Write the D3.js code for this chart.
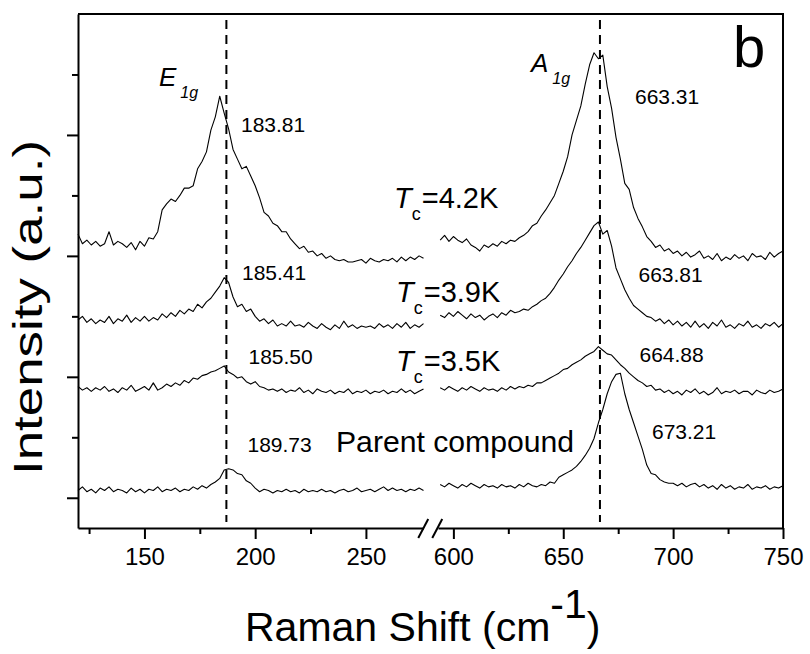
<!DOCTYPE html>
<html>
<head>
<meta charset="utf-8">
<script src="https://cdn.jsdelivr.net/npm/d3@7"></script>
<style>
  body { margin: 0; background: #fff; }
  svg { display: block; font-family: 'Liberation Sans', Arial, sans-serif; }
</style>
</head>
<body>
<div class="container"></div>
<script>
// Raman shift sampling (cm-1), left and right of the axis break
const xLeft = [120, 122, 124, 126, 128, 130, 132, 134, 136, 138,
    140, 142, 144, 146, 148, 150, 152, 154, 156, 158,
    160, 162, 164, 166, 168, 170, 172, 174, 176, 178,
    180, 182, 184, 186, 188, 190, 192, 194, 196, 198,
    200, 202, 204, 206, 208, 210, 212, 214, 216, 218,
    220, 222, 224, 226, 228, 230, 232, 234, 236, 238,
    240, 242, 244, 246, 248, 250, 252, 254, 256, 258,
    260, 262, 264, 266, 268, 270, 272, 274, 276];
const xRight = [594, 596, 598, 600, 602, 604, 606, 608, 610, 612,
    614, 616, 618, 620, 622, 624, 626, 628, 630, 632,
    634, 636, 638, 640, 642, 644, 646, 648, 650, 652,
    654, 656, 658, 660, 662, 664, 666, 668, 670, 672,
    674, 676, 678, 680, 682, 684, 686, 688, 690, 692,
    694, 696, 698, 700, 702, 704, 706, 708, 710, 712,
    714, 716, 718, 720, 722, 724, 726, 728, 730, 732,
    734, 736, 738, 740, 742, 744, 746, 748, 750];

// intensities (a.u., offset stacked)
const tc42Left = [2.18, 2.10, 2.13, 2.09, 2.12, 2.08, 2.10, 2.20, 2.09, 2.12,
    2.10, 2.07, 2.11, 2.05, 2.12, 2.08, 2.15, 2.14, 2.20, 2.38,
    2.43, 2.47, 2.45, 2.50, 2.56, 2.56, 2.58, 2.72, 2.78, 2.86,
    3.04, 3.15, 3.32, 3.18, 3.05, 2.88, 2.80, 2.72, 2.74, 2.66,
    2.58, 2.48, 2.36, 2.33, 2.27, 2.25, 2.20, 2.20, 2.14, 2.10,
    2.06, 2.08, 2.03, 2.04, 2.00, 2.02, 1.98, 2.00, 1.97, 1.96,
    1.97, 1.95, 1.95, 1.96, 1.97, 1.94, 1.98, 1.96, 1.95, 1.97,
    1.96, 1.98, 1.95, 1.99, 1.96, 1.99, 1.97, 2.00, 1.98];
const tc42Right = [2.13, 2.17, 2.12, 2.16, 2.13, 2.11, 2.14, 2.09, 2.07, 2.04,
    2.09, 2.07, 2.10, 2.08, 2.12, 2.10, 2.13, 2.12, 2.15, 2.17,
    2.20, 2.25, 2.27, 2.33, 2.38, 2.44, 2.50, 2.60, 2.70, 2.82,
    3.00, 3.12, 3.24, 3.42, 3.58, 3.68, 3.63, 3.66, 3.40, 3.22,
    2.98, 2.80, 2.60, 2.55, 2.40, 2.31, 2.24, 2.16, 2.12, 2.07,
    2.09, 2.04, 2.06, 2.02, 2.04, 2.00, 2.03, 1.99, 2.01, 2.04,
    1.98, 2.00, 1.97, 2.02, 1.96, 1.99, 1.97, 2.01, 1.98, 2.00,
    1.96, 2.02, 1.99, 2.00, 1.97, 2.03, 1.99, 2.02, 2.04];

const tc39Left = [1.47, 1.50, 1.45, 1.48, 1.44, 1.47, 1.45, 1.50, 1.44, 1.48,
    1.46, 1.51, 1.45, 1.49, 1.46, 1.50, 1.46, 1.49, 1.47, 1.52,
    1.49, 1.53, 1.50, 1.55, 1.52, 1.56, 1.54, 1.60, 1.57, 1.62,
    1.65, 1.70, 1.75, 1.82, 1.78, 1.66, 1.58, 1.60, 1.54, 1.56,
    1.50, 1.46, 1.48, 1.44, 1.47, 1.42, 1.44, 1.42, 1.46, 1.42,
    1.43, 1.41, 1.45, 1.42, 1.40, 1.44, 1.41, 1.39, 1.43, 1.40,
    1.46, 1.41, 1.43, 1.40, 1.42, 1.41, 1.42, 1.40, 1.44, 1.41,
    1.43, 1.40, 1.44, 1.41, 1.45, 1.40, 1.43, 1.41, 1.44];
const tc39Right = [1.51, 1.49, 1.53, 1.50, 1.54, 1.51, 1.48, 1.52, 1.49, 1.51,
    1.47, 1.50, 1.52, 1.49, 1.53, 1.51, 1.55, 1.53, 1.54, 1.56,
    1.55, 1.58, 1.60, 1.63, 1.65, 1.69, 1.74, 1.80, 1.85, 1.91,
    1.96, 2.02, 2.07, 2.13, 2.19, 2.25, 2.28, 2.18, 2.21, 2.08,
    1.90, 1.81, 1.72, 1.65, 1.59, 1.56, 1.53, 1.50, 1.49, 1.46,
    1.48, 1.44, 1.47, 1.43, 1.46, 1.42, 1.45, 1.41, 1.46, 1.41,
    1.44, 1.40, 1.45, 1.42, 1.47, 1.41, 1.43, 1.40, 1.44, 1.42,
    1.46, 1.41, 1.43, 1.40, 1.44, 1.42, 1.45, 1.41, 1.44];

const tc35Left = [0.92, 0.89, 0.91, 0.88, 0.91, 0.89, 0.92, 0.88, 0.90, 0.87,
    0.91, 0.89, 0.93, 0.88, 0.90, 0.92, 0.89, 0.95, 0.89, 0.91,
    0.94, 0.92, 0.95, 0.93, 0.97, 0.95, 0.99, 0.98, 1.01, 1.02,
    1.04, 1.05, 1.07, 1.09, 1.04, 1.02, 0.99, 1.00, 0.96, 0.94,
    0.96, 0.92, 0.91, 0.89, 0.90, 0.88, 0.90, 0.87, 0.89, 0.88,
    0.91, 0.87, 0.89, 0.86, 0.90, 0.88, 0.87, 0.89, 0.86, 0.88,
    0.87, 0.90, 0.86, 0.88, 0.87, 0.89, 0.86, 0.88, 0.87, 0.89,
    0.86, 0.88, 0.87, 0.90, 0.87, 0.89, 0.86, 0.88, 0.90];
const tc35Right = [0.91, 0.89, 0.92, 0.90, 0.88, 0.91, 0.89, 0.92, 0.90, 0.88,
    0.91, 0.89, 0.90, 0.88, 0.91, 0.89, 0.92, 0.90, 0.92, 0.91,
    0.93, 0.92, 0.95, 0.95, 0.97, 0.99, 1.01, 1.03, 1.06, 1.07,
    1.10, 1.12, 1.14, 1.17, 1.19, 1.21, 1.25, 1.22, 1.19, 1.18,
    1.14, 1.10, 1.07, 1.03, 1.00, 0.97, 0.95, 0.92, 0.93, 0.89,
    0.90, 0.87, 0.89, 0.86, 0.88, 0.85, 0.89, 0.87, 0.90, 0.86,
    0.88, 0.85, 0.87, 0.91, 0.86, 0.88, 0.87, 0.89, 0.86, 0.88,
    0.88, 0.85, 0.89, 0.87, 0.86, 0.89, 0.87, 0.88, 0.90];

const parentLeft = [0.06, 0.09, 0.05, 0.07, 0.04, 0.08, 0.06, 0.09, 0.05, 0.07,
    0.06, 0.04, 0.08, 0.05, 0.07, 0.04, 0.07, 0.06, 0.09, 0.05,
    0.07, 0.06, 0.08, 0.05, 0.07, 0.06, 0.09, 0.07, 0.10, 0.08,
    0.11, 0.13, 0.16, 0.23, 0.24, 0.23, 0.20, 0.19, 0.14, 0.12,
    0.08, 0.05, 0.07, 0.06, 0.04, 0.06, 0.05, 0.07, 0.05, 0.06,
    0.04, 0.07, 0.05, 0.06, 0.05, 0.07, 0.05, 0.06, 0.04, 0.06,
    0.07, 0.05, 0.06, 0.08, 0.05, 0.06, 0.07, 0.05, 0.07, 0.09,
    0.06, 0.08, 0.06, 0.07, 0.05, 0.07, 0.06, 0.08, 0.06];
const parentRight = [0.11, 0.09, 0.12, 0.10, 0.08, 0.11, 0.09, 0.12, 0.10, 0.08,
    0.11, 0.09, 0.10, 0.08, 0.11, 0.09, 0.10, 0.08, 0.11, 0.09,
    0.12, 0.10, 0.09, 0.11, 0.10, 0.13, 0.12, 0.17, 0.19, 0.21,
    0.23, 0.26, 0.30, 0.35, 0.41, 0.49, 0.62, 0.73, 0.86, 0.96,
    1.02, 1.03, 0.86, 0.73, 0.62, 0.51, 0.40, 0.27, 0.20, 0.19,
    0.15, 0.13, 0.12, 0.12, 0.10, 0.12, 0.09, 0.11, 0.12, 0.09,
    0.11, 0.08, 0.10, 0.07, 0.11, 0.08, 0.10, 0.07, 0.09, 0.08,
    0.11, 0.07, 0.09, 0.08, 0.10, 0.07, 0.09, 0.08, 0.10];

const sampleTc = ['4.2K', '3.9K', '3.5K'];
const peakE1g = ['183.81', '185.41', '185.50', '189.73'];
const peakA1g = ['663.31', '663.81', '664.88', '673.21'];
const modeLines = [187, 666.7];

const xTicksLeft = [150, 200, 250];
const xMinorLeft = [125, 175, 225];
const xTicksRight = [600, 650, 700, 750];
const xMinorRight = [625, 675, 725];
const yTicks = [0, 1, 2, 3];
const yMinor = [0.5, 1.5, 2.5, 3.5];

const w = 810;
const h = 654;
const frame = { left: 78, right: 783, top: 14, bottom: 528 };
const gapLeft = 423.5;
const gapRight = 438;

const xL = d3.scaleLinear().domain([120, 276]).range([frame.left, gapLeft]);
const xR = d3.scaleLinear().domain([593, 750]).range([gapRight, frame.right]);
const y = d3.scaleLinear().domain([-0.25, 4.0]).range([frame.bottom, frame.top]);

const svg = d3.select('.container')
    .append('svg')
    .attr('width', w)
    .attr('height', h);

// x axis, two pieces
const bottomAxis = (scale, major, minor) => {
    const g = svg.append('g').attr('transform', `translate(0,${frame.bottom})`);
    g.call(d3.axisBottom(scale).tickValues(major).tickSize(11).tickSizeOuter(0));
    g.append('g')
        .call(d3.axisBottom(scale).tickValues(minor).tickSize(6).tickFormat(''))
        .call(s => s.select('.domain').remove());
    g.selectAll('path, line').attr('stroke', '#000').attr('stroke-width', 2);
    g.selectAll('text')
        .attr('y', 37)
        .attr('dy', null)
        .attr('fill', '#000')
        .style('font-size', '24px')
        .style('font-family', "'Liberation Sans', Arial, sans-serif");
};
bottomAxis(xL, xTicksLeft, xMinorLeft);
bottomAxis(xR, xTicksRight, xMinorRight);

// y axis
const yAxis = svg.append('g').attr('transform', `translate(${frame.left},0)`);
yAxis.call(d3.axisLeft(y).tickValues(yTicks).tickSize(11).tickSizeOuter(0).tickFormat(''));
yAxis.append('g')
    .call(d3.axisLeft(y).tickValues(yMinor).tickSize(6).tickFormat(''))
    .call(s => s.select('.domain').remove());
yAxis.selectAll('path, line').attr('stroke', '#000').attr('stroke-width', 2);

// top and right border
svg.append('path')
    .attr('d', `M${frame.left},${frame.top}H${frame.right}V${frame.bottom}`)
    .attr('fill', 'none')
    .attr('stroke', '#000')
    .attr('stroke-width', 2);

// axis break marks
const breakX = (gapLeft + gapRight) / 2;
svg.append('g')
    .selectAll('line')
    .data([-12.5, 1.5])
    .join('line')
    .attr('x1', d => breakX + d)
    .attr('y1', frame.bottom + 10)
    .attr('x2', d => breakX + d + 10)
    .attr('y2', frame.bottom - 9)
    .attr('stroke', '#000')
    .attr('stroke-width', 2);

// dashed mode positions
svg.append('g')
    .selectAll('line')
    .data(modeLines)
    .join('line')
    .attr('x1', (d, i) => (i === 0 ? xL : xR)(d))
    .attr('x2', (d, i) => (i === 0 ? xL : xR)(d))
    .attr('y1', frame.top + 6)
    .attr('y2', frame.bottom - 6)
    .attr('stroke', '#000')
    .attr('stroke-width', 2)
    .attr('stroke-dasharray', '9,6');

// spectra
const spectra = [
    { left: tc42Left, right: tc42Right },
    { left: tc39Left, right: tc39Right },
    { left: tc35Left, right: tc35Right },
    { left: parentLeft, right: parentRight }
];
const lineL = d3.line().x((d, i) => xL(xLeft[i])).y(d => y(d));
const lineR = d3.line().x((d, i) => xR(xRight[i])).y(d => y(d));

const traces = svg.append('g')
    .attr('fill', 'none')
    .attr('stroke', '#000')
    .attr('stroke-width', 1.1)
    .attr('stroke-linejoin', 'round');
spectra.forEach(s => {
    traces.append('path').attr('d', lineL(s.left));
    traces.append('path').attr('d', lineR(s.right));
});

// peak position labels
const peakPosE = [[241, 131.5], [242, 280], [248.5, 363.5], [247.5, 452]];
const peakPosA = [[635, 103.5], [638.5, 282], [639.5, 362], [652, 438.5]];
svg.append('g')
    .selectAll('text')
    .data(peakE1g.map((t, i) => ({ t, p: peakPosE[i] }))
        .concat(peakA1g.map((t, i) => ({ t, p: peakPosA[i] }))))
    .join('text')
    .attr('x', d => d.p[0])
    .attr('y', d => d.p[1])
    .style('font-size', '21px')
    .text(d => d.t);

// T_c labels
const tcPos = [[394, 208], [396, 302], [396, 371]];
sampleTc.forEach((t, i) => {
    const txt = svg.append('text')
        .attr('x', tcPos[i][0])
        .attr('y', tcPos[i][1])
        .style('font-size', '29px');
    txt.append('tspan').style('font-style', 'italic').text('T');
    txt.append('tspan').attr('dx', 0).attr('dy', 12).style('font-size', '18px').text('c');
    txt.append('tspan').attr('dx', 1).attr('dy', -12).text('=' + t);
});

svg.append('text')
    .attr('x', 336)
    .attr('y', 452)
    .attr('textLength', 238)
    .attr('lengthAdjust', 'spacingAndGlyphs')
    .style('font-size', '29px')
    .text('Parent compound');

// mode names
const modeName = (x, yy, letter) => {
    const txt = svg.append('text')
        .attr('x', x)
        .attr('y', yy)
        .style('font-size', '26px')
        .style('font-style', 'italic');
    txt.append('tspan').text(letter);
    txt.append('tspan').attr('dx', 4).attr('dy', 12).style('font-size', '16px').text('1g');
};
modeName(159, 86, 'E');
modeName(531, 72, 'A');

svg.append('text')
    .attr('x', 733)
    .attr('y', 67)
    .style('font-size', '58px')
    .text('b');

// axis titles
svg.append('text')
    .attr('transform', 'translate(42,307.5) rotate(-90)')
    .attr('text-anchor', 'middle')
    .attr('textLength', 335)
    .attr('lengthAdjust', 'spacingAndGlyphs')
    .style('font-size', '40px')
    .text('Intensity (a.u.)');

const xTitle = svg.append('text')
    .attr('x', 245)
    .attr('y', 641)
    .style('font-size', '41px');
xTitle.append('tspan').text('Raman Shift (cm');
xTitle.append('tspan').attr('dy', -23).text('-1');
xTitle.append('tspan').attr('dy', 23).text(')');
</script>
</body>
</html>
